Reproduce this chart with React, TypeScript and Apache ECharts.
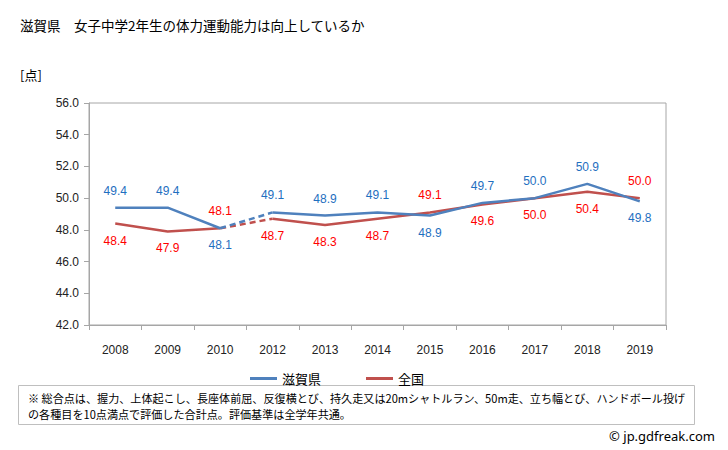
import React, { useEffect, useRef } from "react";
import * as echarts from "echarts";

const years = ["2008", "2009", "2010", "2012", "2013", "2014", "2015", "2016", "2017", "2018", "2019"];
const shiga = [49.4, 49.4, 48.1, 49.1, 48.9, 49.1, 48.9, 49.7, 50.0, 50.9, 49.8];
const national = [48.4, 47.9, 48.1, 48.7, 48.3, 48.7, 49.1, 49.6, 50.0, 50.4, 50.0];
const shigaLabelBelow = [2, 6, 10];
const nationalLabelAbove = [2, 6, 10];

const titleText = "滋賀県　女子中学2年生の体力運動能力は向上しているか";
const unitText = "[点]";
const noteLine1 = "※ 総合点は、握力、上体起こし、長座体前屈、反復横とび、持久走又は20mシャトルラン、50m走、立ち幅とび、ハンドボール投げ";
const noteLine2 = "の各種目を10点満点で評価した合計点。評価基準は全学年共通。";
const credit = "© jp.gdfreak.com";

const BLUE = "#4F81BD";
const RED = "#C0504D";
const BLUE_TXT = "#1F6FBF";
const RED_TXT = "#FF0000";
const JP = "'Noto Sans CJK JP', sans-serif";
const NUM = "'Liberation Sans', Arial, sans-serif";

function splitSegments(values: number[]) {
  const segs: (number | null)[][] = [];
  const dashed: (number | null)[][] = [];
  let start = 0;
  for (let i = 1; i <= years.length; i++) {
    const isBreak = i === years.length || Number(years[i]) - Number(years[i - 1]) > 1;
    if (isBreak) {
      segs.push(values.map((v, j) => (j >= start && j < i ? v : null)));
      if (i < years.length) {
        dashed.push(values.map((v, j) => (j === i - 1 || j === i ? v : null)));
      }
      start = i;
    }
  }
  return { segs, dashed };
}

export default function App() {
  const ref = useRef<HTMLDivElement>(null);
  useEffect(() => {
    if (!ref.current) return;
    const chart = echarts.init(ref.current, null, { renderer: "svg" });
    const s = splitSegments(shiga);
    const n = splitSegments(national);

    const mkData = (vals: (number | null)[], flip: number[], defaultTop: boolean, color: string) =>
      vals.map((v, i) => {
        if (v === null) return null;
        const top = flip.includes(i) ? !defaultTop : defaultTop;
        return {
          value: v,
          label: {
            show: true,
            position: top ? "top" : "bottom",
            distance: 11,
            color,
            fontSize: 12,
            fontFamily: NUM,
            formatter: (p: any) => Number(p.value).toFixed(1),
          },
        };
      });

    const series: any[] = [];
    const addSolid = (name: string, segs: (number | null)[][], flip: number[], top: boolean, lc: string, tc: string, z: number) =>
      segs.forEach((seg) =>
        series.push({
          name,
          type: "line",
          data: mkData(seg, flip, top, tc),
          showSymbol: true,
          symbol: "circle",
          symbolSize: 0,
          connectNulls: false,
          lineStyle: { color: lc, width: 2.5 },
          itemStyle: { color: lc },
          z,
        })
      );
    const addDashed = (name: string, segs: (number | null)[][], lc: string, z: number) =>
      segs.forEach((seg) =>
        series.push({
          name,
          type: "line",
          data: seg,
          symbol: "none",
          lineStyle: { color: lc, width: 2.5, type: [6, 4] },
          itemStyle: { color: lc },
          z,
        })
      );
    addSolid("滋賀県", s.segs, shigaLabelBelow, true, BLUE, BLUE_TXT, 3);
    addDashed("滋賀県", s.dashed, BLUE, 3);
    addSolid("全国", n.segs, nationalLabelAbove, false, RED, RED_TXT, 2);
    addDashed("全国", n.dashed, RED, 2);

    chart.setOption({
      animation: false,
      grid: {
        left: 89,
        top: 103,
        right: 62,
        bottom: 125,
        show: true,
        borderColor: "#A6A6A6",
        borderWidth: 1,
        backgroundColor: "transparent",
      },
      legend: {
        data: [
          { name: "滋賀県", icon: "rect", itemStyle: { color: BLUE } },
          { name: "全国", icon: "rect", itemStyle: { color: RED } },
        ],
        top: 367,
        left: 245,
        itemWidth: 27,
        itemHeight: 3,
        itemGap: 45,
        textStyle: { fontSize: 13, fontFamily: JP, color: "#000" },
      },
      xAxis: {
        type: "category",
        data: years,
        boundaryGap: true,
        axisLine: { lineStyle: { color: "#A6A6A6" } },
        axisTick: { show: true, length: 5, lineStyle: { color: "#A6A6A6" } },
        axisLabel: { fontSize: 12, fontFamily: NUM, color: "#222", margin: 19 },
        splitLine: { show: false },
      },
      yAxis: {
        type: "value",
        min: 42,
        max: 56,
        interval: 2,
        axisLine: { show: true, lineStyle: { color: "#A6A6A6" } },
        axisTick: { show: true, length: 5, lineStyle: { color: "#A6A6A6" } },
        axisLabel: {
          fontSize: 12,
          fontFamily: NUM,
          color: "#222",
          margin: 10,
          formatter: (v: number) => v.toFixed(1),
        },
        splitLine: { show: false },
      },
      graphic: [
        {
          type: "text",
          left: 20,
          top: 18,
          style: { text: titleText, fontSize: 13.5, fontFamily: JP, fill: "#000" },
        },
        {
          type: "text",
          left: 20,
          top: 68,
          style: { text: unitText, fontSize: 13, fontFamily: JP, fill: "#000" },
        },
        {
          type: "rect",
          shape: { x: 18.5, y: 385.5, width: 676, height: 39 },
          style: { fill: "#fff", stroke: "#BFBFBF", lineWidth: 1 },
        },
        {
          type: "text",
          x: 28,
          y: 398,
          style: {
            text: noteLine1,
            fontSize: 11.1,
            fontFamily: JP,
            fill: "#000",
            verticalAlign: "middle",
          },
        },
        {
          type: "text",
          x: 28,
          y: 414,
          style: {
            text: noteLine2,
            fontSize: 11.1,
            fontFamily: JP,
            fill: "#000",
            verticalAlign: "middle",
          },
        },
        {
          type: "text",
          x: 715,
          y: 436,
          style: {
            text: credit,
            fontSize: 13,
            fontFamily: "'Noto Sans', sans-serif",
            fill: "#000",
            align: "right",
            verticalAlign: "middle",
          },
        },
      ],
      series,
    });
    return () => chart.dispose();
  }, []);
  return (
    <div
      ref={ref}
      style={{ position: "fixed", left: 0, top: 0, width: 728, height: 450, background: "#fff" }}
    />
  );
}
